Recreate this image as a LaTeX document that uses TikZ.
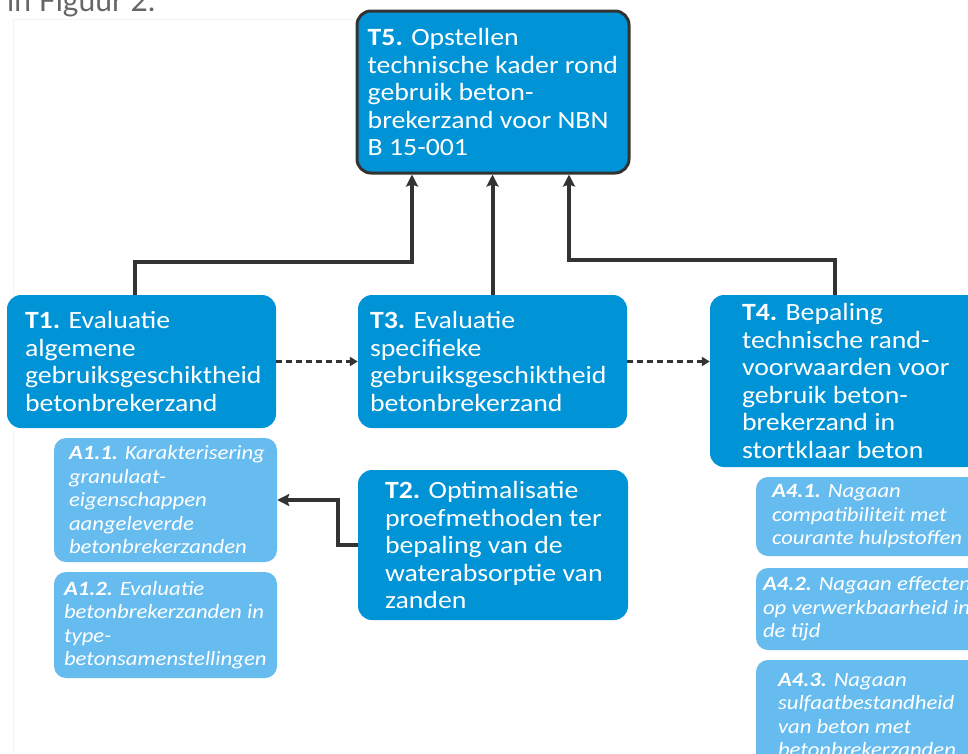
\documentclass[tikz,border=0pt]{standalone}
\usepackage{fontspec}
\setmainfont{Carlito}[FakeStretch=1.12]
\newfontfamily\latofont{Lato}
\usetikzlibrary{arrows.meta,calc}
\definecolor{mainblue}{HTML}{0093D6}
\definecolor{lightblue}{HTML}{66BCEE}
\definecolor{conncol}{HTML}{333333}
\definecolor{framecol}{HTML}{F3F3F3}
\definecolor{toptext}{HTML}{666666}
\tikzset{
  tbox/.style={rectangle, rounded corners=14pt, fill=mainblue, inner sep=0pt},
  abox/.style={rectangle, rounded corners=12pt, fill=lightblue, inner sep=0pt},
  ttxt/.style={anchor=west, align=left, text=white, inner sep=0pt,
    font=\fontsize{24.8}{27.5}\selectfont},
  atxt/.style={anchor=west, align=left, text=white, inner sep=0pt,
    font=\fontsize{20.3}{23.5}\selectfont\itshape},
  conn/.style={draw=conncol, line width=4pt, -{Stealth[length=12pt,width=12pt,inset=2pt]}},
  dconn/.style={draw=conncol, line width=2.5pt, dash pattern=on 6pt off 4pt,
    -{Triangle[length=8pt,width=9pt]}}
}
\begin{document}
\begin{tikzpicture}[x=1pt,y=-1pt]
\useasboundingbox (0,0) rectangle (968,753);
\clip (0,0) rectangle (968,753);
\fill[white] (0,0) rectangle (968,753);
% faint frame
\draw[framecol, line width=1pt] (13,753) -- (13,19) -- (356,19);
% clipped heading text
\node[anchor=base west, inner sep=0pt, text=toptext, font=\latofont\fontsize{30}{36}\selectfont] (head) at (7,11) {in Figuur 2.};
% main boxes
\node[tbox, draw=conncol, line width=3pt, minimum width=272pt, minimum height=162pt] (t5) at (493,92) {};
\node[tbox, minimum width=269pt, minimum height=133pt] (t1) at (141.5,361.5) {};
\node[tbox, minimum width=269pt, minimum height=133pt] (t3) at (492.5,361.5) {};
\node[tbox, minimum width=270pt, minimum height=172pt] (t4) at (845,381) {};
\node[tbox, minimum width=270pt, minimum height=150pt] (t2) at (493,545) {};
% activity boxes
\node[abox, minimum width=223pt, minimum height=124pt] (a11) at (165.5,500) {};
\node[abox, minimum width=223pt, minimum height=106pt] (a12) at (165.5,625) {};
\node[abox, minimum width=234pt, minimum height=79pt] (a41) at (873,516.5) {};
\node[abox, minimum width=234pt, minimum height=82pt] (a42) at (873,609) {};
\node[abox, minimum width=234pt, minimum height=110pt] (a43) at (873,715) {};
% texts
\node[ttxt] (t5l) at ([xshift=12pt]t5.west) {\textbf{T5.} Opstellen\\technische kader rond\\gebruik beton-\\brekerzand voor NBN\\B 15-001};
\node[ttxt] (t1l) at ([xshift=18pt]t1.west) {\textbf{T1.} Evaluatie\\algemene\\gebruiksgeschiktheid\\betonbrekerzand};
\node[ttxt] (t3l) at ([xshift=12pt]t3.west) {\textbf{T3.} Evaluatie\\specifieke\\gebruiksgeschiktheid\\betonbrekerzand};
\node[ttxt] (t4l) at ([xshift=32pt]t4.west) {\textbf{T4.} Bepaling\\technische rand-\\voorwaarden voor\\gebruik beton-\\brekerzand in\\stortklaar beton};
\node[ttxt] (t2l) at ([xshift=27pt]t2.west) {\textbf{T2.} Optimalisatie\\proefmethoden ter\\bepaling van de\\waterabsorptie van\\zanden};
\node[atxt] (a11l) at ([xshift=15pt]a11.west) {\textbf{A1.1.} Karakterisering\\granulaat-\\eigenschappen\\aangeleverde\\betonbrekerzanden};
\node[atxt] (a12l) at ([xshift=10pt]a12.west) {\textbf{A1.2.} Evaluatie\\betonbrekerzanden in\\type-\\betonsamenstellingen};
\node[atxt] (a41l) at ([xshift=16pt]a41.west) {\textbf{A4.1.} Nagaan\\compatibiliteit met\\courante hulpstoffen};
\node[atxt] (a42l) at ([xshift=7pt]a42.west) {\textbf{A4.2.} Nagaan effecten\\op verwerkbaarheid in\\de tijd};
\node[atxt] (a43l) at ([xshift=22pt]a43.west) {\textbf{A4.3.} Nagaan\\sulfaatbestandheid\\van beton met\\betonbrekerzanden};
% connectors
\draw[conn] ([xshift=-6.5pt]t1.north) -- ++(0,-33) -| ([xshift=-81pt]t5.south);
\draw[conn] (t3.north) -- (t3.north |- t5.south);
\draw[conn] ([xshift=-10pt]t4.north) -- ++(0,-35) -| ([xshift=76pt]t5.south);
\draw[dconn] (t1.east) -- (t3.west);
\draw[dconn] (t3.east) -- (t3.east -| t4.west);
\draw[conn] (t2.west) -- ++(-20,0) |- (a11.east);
\end{tikzpicture}
\end{document}
